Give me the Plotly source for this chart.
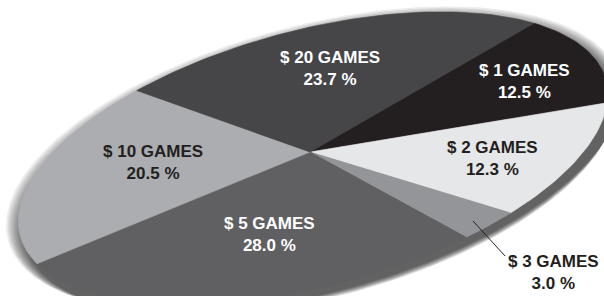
import numpy as np
import plotly.graph_objects as go

# ---- data ----
categories = ["$ 1 GAMES", "$ 2 GAMES", "$ 3 GAMES", "$ 5 GAMES", "$ 10 GAMES", "$ 20 GAMES"]
shares = [12.5, 12.3, 3.0, 28.0, 20.5, 23.7]
pct_labels = ["12.5 %", "12.3 %", "3.0 %", "28.0 %", "20.5 %", "23.7 %"]

# ---- styles / geometry ----
colors = ["#231f20", "#e6e7e8", "#939598", "#606062", "#acadb0", "#464648"]
text_colors = ["white", "#231f20", "#231f20", "white", "#231f20", "white"]
label_pos = [(524, 81), (492, 158), (553, 272), (269, 234), (153, 162), (330, 68)]

W, H = 604, 296
cx, cy = 313, 158          # ellipse centre
apx, apy = 310, 152        # point where slices meet
a, b = 303, 128
phi = np.deg2rad(14.9)
start_deg = -35.0

e1 = np.array([np.cos(phi), -np.sin(phi)])
e2 = np.array([np.sin(phi), np.cos(phi)])


def ell(t, ox=0.0, oy=0.0, s=1.0):
    x = cx + ox + s * (a * np.cos(t) * e1[0] + b * np.sin(t) * e2[0])
    y = cy + oy + s * (a * np.cos(t) * e1[1] + b * np.sin(t) * e2[1])
    return x, y


fig = go.Figure()

# soft drop shadow
n_sh = 12
for k in range(n_sh):
    t = np.linspace(0, 2 * np.pi, 260)
    off = 1 + k * 0.9
    x, y = ell(t, ox=off * 0.6, oy=off, s=1.0 + 0.004 * (n_sh - 1 - k))
    fig.add_trace(go.Scatter(x=x, y=y, fill="toself", mode="lines", line=dict(width=0),
                             fillcolor="rgba(0,0,0,0.075)", hoverinfo="skip", showlegend=False))

# slices
total = sum(shares)
ang = np.deg2rad(start_deg)
for i, v in enumerate(shares):
    span = 2 * np.pi * v / total
    t = np.linspace(ang, ang + span, max(4, int(240 * v / total) + 4))
    x, y = ell(t)
    xs = np.concatenate([[apx], x, [apx]])
    ys = np.concatenate([[apy], y, [apy]])
    fig.add_trace(go.Scatter(x=xs, y=ys, fill="toself", mode="lines",
                             line=dict(width=0.6, color=colors[i]),
                             fillcolor=colors[i], name=categories[i],
                             hoverinfo="name", showlegend=False))
    ang += span

# labels
for i, cat in enumerate(categories):
    px, py = label_pos[i]
    fig.add_annotation(x=px, y=py, text=f"<b>{cat}<br>{pct_labels[i]}</b>", showarrow=False,
                       font=dict(family="Liberation Sans Narrow, Liberation Sans, Arial", size=17,
                                 color=text_colors[i]),
                       align="center")

# leader line for $3
fig.add_shape(type="line", x0=473, y0=221, x1=505, y1=256,
              line=dict(color="#231f20", width=1))

fig.update_xaxes(range=[0, W], visible=False, fixedrange=True)
fig.update_yaxes(range=[H, 0], visible=False, fixedrange=True)
fig.update_layout(width=W, height=H, margin=dict(l=0, r=0, t=0, b=0),
                  paper_bgcolor="white", plot_bgcolor="white")
fig.write_html("out.html", config={"displayModeBar": False},
               post_script="document.body.style.margin='0';document.body.style.overflow='hidden';")
